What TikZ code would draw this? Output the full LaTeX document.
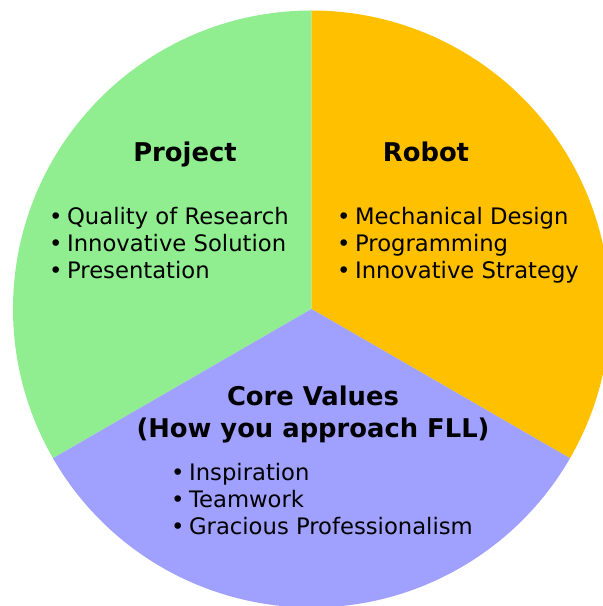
\documentclass[tikz,border=0pt]{standalone}
\usepackage{fontspec}
\setmainfont{DejaVu Sans}
\definecolor{projgreen}{RGB}{144,238,144}
\definecolor{robotorange}{RGB}{255,192,0}
\definecolor{valuepurple}{RGB}{160,160,255}
\tikzset{
  heading/.style={font=\fontsize{25.8}{32}\selectfont\bfseries, align=center, inner sep=0pt},
  bulletlist/.style={font=\fontsize{22.7}{27}\selectfont, align=left, anchor=west, inner sep=0pt},
}
\newcommand{\itm}{\strut\textbullet\hspace{0.2em}}
\begin{document}
\begin{tikzpicture}[x=1pt,y=1pt]
  \useasboundingbox (0,0) rectangle (603,606);
  \clip (0,0) rectangle (603,606);
  \def\rad{298.5}
  \coordinate (c) at (311.5,297);
  % three equal sectors of the wheel
  \fill[projgreen]    (c) -- ++(90:\rad)  arc[start angle=90,  end angle=210, radius=\rad] -- cycle;
  \fill[robotorange]  (c) -- ++(-30:\rad) arc[start angle=-30, end angle=90,  radius=\rad] -- cycle;
  \fill[valuepurple]  (c) -- ++(210:\rad) arc[start angle=210, end angle=330, radius=\rad] -- cycle;

  % Project sector
  \node[heading, anchor=base] (projtitle) at (185,444.5) {Project};
  \node[bulletlist] (projlist) at (49,360) {\itm Quality of Research\\\itm Innovative Solution\\\itm Presentation};

  % Robot sector
  \node[heading, anchor=base] (robottitle) at (426,444.5) {Robot};
  \node[bulletlist] (robotlist) at (337,360) {\itm Mechanical Design\\\itm Programming\\\itm Innovative Strategy};

  % Core Values sector
  \node[heading] (coretitle) at (313,191) {\strut Core Values\\\strut(How you approach FLL)};
  \node[bulletlist] (corelist) at (171,104) {\itm Inspiration\\\itm Teamwork\\\itm Gracious Professionalism};
\end{tikzpicture}
\end{document}
